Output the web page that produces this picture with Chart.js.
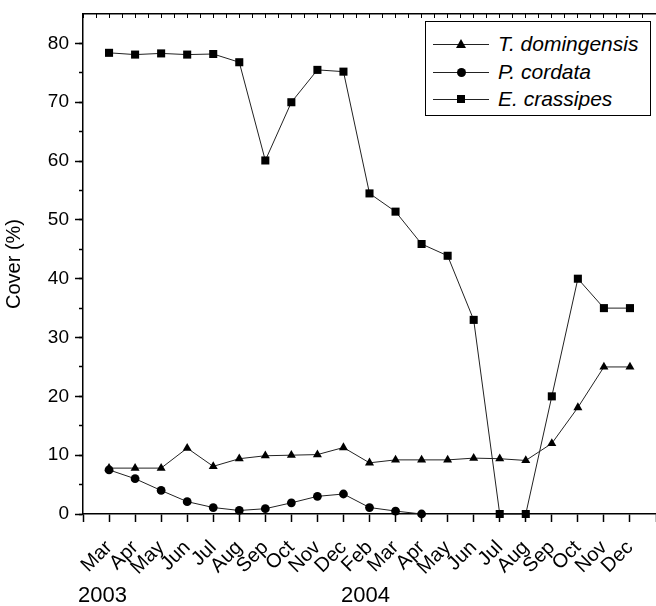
<!DOCTYPE html>
<html>
<head>
<meta charset="utf-8">
<script src="https://cdn.jsdelivr.net/npm/chart.js@4.4.1/dist/chart.umd.min.js"></script>
<style>
  body { margin: 0; background: #fff; }
  #wrap { position: relative; width: 656px; height: 606px; font-family: "Liberation Sans", Arial, sans-serif; color: #000; }
  .year { position: absolute; top: 584px; font-size: 22px; line-height: 1; }
  #legend { position: absolute; left: 425px; top: 21px; width: 224px; height: 93px; border: 1.5px solid #000; background: #fff; }
  .row { position: absolute; left: 0; height: 28px; width: 100%; }
  .row .ln { position: absolute; left: 7px; top: 13.5px; width: 56px; height: 1px; background: #222; }
  .row .mk { position: absolute; background: #000; }
  .row .txt { position: absolute; left: 72px; top: 0; line-height: 28px; font-size: 21px; font-style: italic; white-space: nowrap; }
  .mk.sq { left: 31px; top: 10px; width: 8px; height: 8px; }
  .mk.ci { left: 30.5px; top: 9.5px; width: 9px; height: 9px; border-radius: 50%; }
  .mk.tr { left: 30px; top: 9px; width: 0; height: 0; background: none; border-left: 5px solid transparent; border-right: 5px solid transparent; border-bottom: 9px solid #000; }
</style>
</head>
<body>
<div id="wrap">
  <canvas id="coverChart" width="656" height="606"></canvas>
  <div class="year" style="left:78px">2003</div>
  <div class="year" style="left:341px">2004</div>
  <div id="legend">
    <div class="row" style="top:8px"><div class="ln"></div><div class="mk tr"></div><div class="txt">T. domingensis</div></div>
    <div class="row" style="top:36px"><div class="ln"></div><div class="mk ci"></div><div class="txt">P. cordata</div></div>
    <div class="row" style="top:63px"><div class="ln"></div><div class="mk sq"></div><div class="txt">E. crassipes</div></div>
  </div>
</div>
<script>
// Mar 2003 .. Dec 2004 (no Jan 2004 sample)
const months = ['Mar', 'Apr', 'May', 'Jun', 'Jul', 'Aug', 'Sep', 'Oct', 'Nov', 'Dec',
                'Feb', 'Mar', 'Apr', 'May', 'Jun', 'Jul', 'Aug', 'Sep', 'Oct', 'Nov', 'Dec'];

const tDomingensis = [7.8, 7.8, 7.8, 11.2, 8.1, 9.4, 9.9, 10.0, 10.1, 11.3,
                      8.7, 9.2, 9.2, 9.2, 9.5, 9.4, 9.1, 12.0, 18.1, 25.0, 25.0];
const pCordata = [7.5, 6.0, 4.0, 2.1, 1.1, 0.6, 0.9, 1.9, 3.0, 3.4,
                  1.1, 0.5, 0.0, null, null, null, null, null, null, null, null];
const eCrassipes = [78.4, 78.1, 78.3, 78.1, 78.2, 76.8, 60.1, 70.0, 75.5, 75.2,
                    54.5, 51.4, 45.9, 43.9, 33.0, 0.0, 0.0, 20.0, 40.0, 35.0, 35.0];

const yMax = 85;

function toPoints(values) {
    return values.map((v, i) => ({ x: i, y: v }));
}

function makeSet(label, values, style, radius, order) {
    return {
        label: label,
        data: toPoints(values),
        borderColor: '#222',
        borderWidth: 1,
        backgroundColor: '#000',
        pointStyle: style,
        pointRadius: radius,
        pointBorderWidth: 0,
        pointBackgroundColor: '#000',
        tension: 0,
        spanGaps: false,
        clip: false,
        order: order
    };
}

function noPad(s) {
    s.paddingLeft = 0; s.paddingRight = 0; s.paddingTop = 0; s.paddingBottom = 0;
}

const ctx = document.getElementById('coverChart').getContext('2d');
new Chart(ctx, {
    type: 'line',
    data: {
        datasets: [
            makeSet('T. domingensis', tDomingensis, 'triangle', 5.2, 3),
            makeSet('P. cordata', pCordata, 'circle', 4.4, 2),
            makeSet('E. crassipes', eCrassipes, 'rect', 5.7, 1)
        ]
    },
    options: {
        responsive: false,
        animation: false,
        devicePixelRatio: 1,
        layout: { autoPadding: false, padding: 0 },
        plugins: { legend: { display: false }, tooltip: { enabled: false } },
        scales: {
            x: {
                type: 'linear', position: 'bottom', min: -1, max: 21,
                ticks: {
                    stepSize: 1, autoSkip: false, maxRotation: 45, minRotation: 45,
                    color: '#000', padding: 14,
                    font: { family: 'Liberation Sans', size: 20 },
                    callback: v => months[v] || ''
                },
                grid: { drawOnChartArea: false, tickLength: 8, color: '#000', tickWidth: 1.5 },
                border: { color: '#000', width: 1.5 },
                afterFit: s => { s.height = 92; noPad(s); }
            },
            xTop: {
                type: 'linear', position: 'top', min: -1, max: 21,
                ticks: { display: false, stepSize: 0.5, autoSkip: false },
                grid: { drawOnChartArea: false, tickLength: -4, color: '#000', tickWidth: 1 },
                border: { color: '#000', width: 1.5 },
                afterFit: s => { s.height = 14; noPad(s); }
            },
            y: {
                type: 'linear', position: 'left', min: 0, max: yMax, weight: 1,
                afterBuildTicks: s => { s.ticks = s.ticks.filter(t => t.value % 10 === 0); },
                ticks: { stepSize: 10, color: '#000', padding: 6, font: { family: 'Liberation Sans', size: 19 } },
                grid: { drawOnChartArea: false, tickLength: 8, color: '#000', tickWidth: 1.5 },
                border: { color: '#000', width: 1.5 },
                title: { display: true, text: 'Cover (%)', color: '#000', padding: { top: 2, bottom: 0 },
                         font: { family: 'Liberation Sans', size: 20 } },
                afterFit: s => { s.width = 83; noPad(s); }
            },
            yMinor: {
                type: 'linear', position: 'left', min: 0, max: yMax, weight: 0,
                afterBuildTicks: s => { s.ticks = s.ticks.filter(t => t.value < yMax); },
                ticks: { display: false, stepSize: 5 },
                grid: { drawOnChartArea: false, tickLength: 4, color: '#000', tickWidth: 1.5 },
                border: { display: false },
                afterFit: s => { s.width = 0; noPad(s); }
            }
        }
    }
});
</script>
</body>
</html>
